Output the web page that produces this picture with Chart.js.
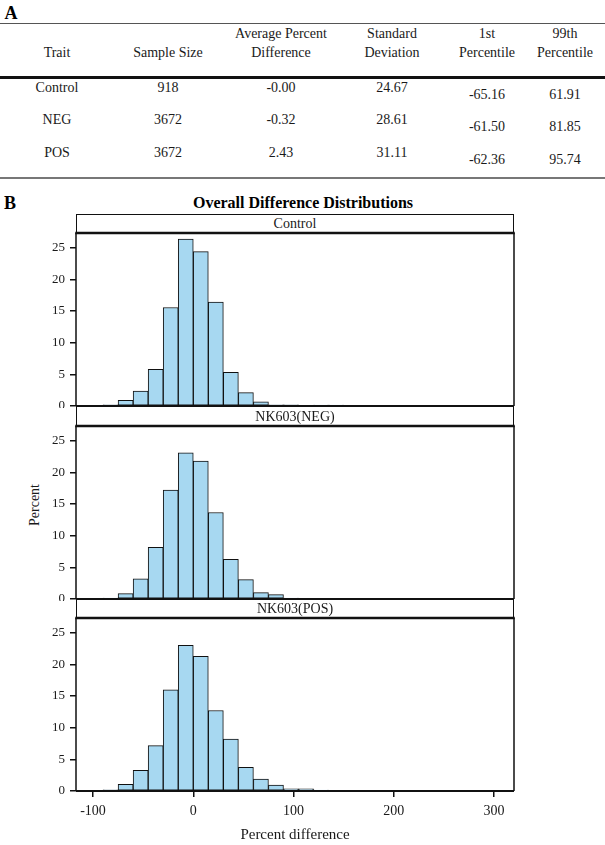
<!DOCTYPE html>
<html>
<head>
<meta charset="utf-8">
<script src="https://cdn.jsdelivr.net/npm/chart.js@4.4.1/dist/chart.umd.min.js"></script>
<style>
  body { margin: 0; background: #fff; }
  #page { position: relative; width: 605px; height: 845px; overflow: hidden; font-family: "Liberation Serif", "Times New Roman", serif; color: #1a1a1a; }
  .t { position: absolute; white-space: nowrap; transform: translate(-50%, -50%); line-height: 1; }
  .rule { position: absolute; left: 0; width: 605px; }
  canvas { position: absolute; left: 0; }
  .strip { position: absolute; left: 76px; width: 438px; border: 1px solid #111; box-sizing: border-box; }
</style>
</head>
<body>
<div id="page"></div>
<script>
// table (panel A)
const traits = ['Control', 'NEG', 'POS'];
const sampleSizes = ['918', '3672', '3672'];
const avgPercentDiff = ['-0.00', '-0.32', '2.43'];
const stdDev = ['24.67', '28.61', '31.11'];
const pct1 = ['-65.16', '-61.50', '-62.36'];
const pct99 = ['61.91', '81.85', '95.74'];
const headTop = ['', '', 'Average Percent', 'Standard', '1st', '99th'];
const headBottom = ['Trait', 'Sample Size', 'Difference', 'Deviation', 'Percentile', 'Percentile'];

// histograms (panel B), bin width 15, centres from -82.5
const binCenters = [-82.5, -67.5, -52.5, -37.5, -22.5, -7.5, 7.5, 22.5, 37.5, 52.5, 67.5, 82.5, 97.5, 112.5, 127.5, 142.5];
const controlPct = [0.2, 0.9, 2.35, 5.8, 15.55, 26.35, 24.35, 16.4, 5.3, 2.1, 0.65, 0.2, 0.2, 0, 0.15, 0.15];
const negPct = [0.15, 0.85, 3.2, 8.15, 17.2, 23.05, 21.75, 13.65, 6.25, 3.05, 1.0, 0.7, 0.15, 0.1, 0, 0];
const posPct = [0.2, 1.05, 3.25, 7.15, 15.95, 23.0, 21.25, 12.7, 8.2, 3.75, 1.9, 0.95, 0.35, 0.35, 0.15, 0];
const panelNames = ['Control', 'NK603(NEG)', 'NK603(POS)'];
const xTicks = [-100, 0, 100, 200, 300];
const yTicks = [0, 5, 10, 15, 20, 25];

const FONT = '"Liberation Serif", "Times New Roman", serif';
const page = document.getElementById('page');

function text(str, cx, cy, size, extra) {
  const d = document.createElement('div');
  d.className = 't';
  d.textContent = str;
  d.style.left = cx + 'px';
  d.style.top = cy + 'px';
  d.style.fontSize = size + 'px';
  if (extra) Object.assign(d.style, extra);
  page.appendChild(d);
  return d;
}
function rule(y, h, color) {
  const d = document.createElement('div');
  d.className = 'rule';
  d.style.top = y + 'px';
  d.style.height = h + 'px';
  d.style.background = color;
  page.appendChild(d);
}

// ---- panel A ----
text('A', 11, 13, 18, { fontWeight: 'bold', color: '#000' });
rule(22.5, 1, '#555');
rule(76, 2.5, '#111');
rule(177, 2, '#777');

const colX = [57, 168, 281, 392, 487, 565];
headTop.forEach((h, i) => { if (h) text(h, colX[i], 34, 14); });
headBottom.forEach((h, i) => text(h, colX[i], 53, 14));

const rowY = [88, 120, 153];
const cols = [traits, sampleSizes, avgPercentDiff, stdDev, pct1, pct99];
cols.forEach((col, c) => {
  col.forEach((v, r) => {
    const dy = c >= 4 ? 7 : 0;
    text(v, colX[c], rowY[r] + dy, 14);
  });
});

// ---- panel B ----
text('B', 10, 203, 18, { fontWeight: 'bold', color: '#000' });
text('Overall Difference Distributions', 303, 203, 16, { fontWeight: 'bold', color: '#000' });
text('Percent', 35, 505, 14, { transform: 'translate(-50%, -50%) rotate(-90deg)' });

const stripTop = [214, 406, 599];
const plotTop = [233, 426, 618];
const PLOT_H = 173;

const boxPlugin = {
  id: 'box',
  afterDraw(chart) {
    const { ctx, chartArea: a } = chart;
    ctx.save();
    ctx.strokeStyle = '#111';
    ctx.lineWidth = 1.5;
    ctx.beginPath();
    ctx.moveTo(a.left, a.top); ctx.lineTo(a.left, a.bottom);
    ctx.moveTo(a.right, a.top); ctx.lineTo(a.right, a.bottom);
    ctx.stroke();
    ctx.lineWidth = 2;
    ctx.beginPath();
    ctx.moveTo(a.left, a.bottom); ctx.lineTo(a.right, a.bottom);
    ctx.stroke();
    ctx.lineWidth = 2.5;
    ctx.beginPath();
    ctx.moveTo(a.left - 0.75, a.top); ctx.lineTo(a.right + 0.75, a.top);
    ctx.stroke();
    ctx.restore();
  }
};

function makePanel(i, values) {
  const last = i === 2;
  const strip = document.createElement('div');
  strip.className = 'strip';
  strip.style.top = stripTop[i] + 'px';
  strip.style.height = (plotTop[i] - stripTop[i] + 1) + 'px';
  page.appendChild(strip);
  text(panelNames[i], 295, (stripTop[i] + plotTop[i]) / 2 + 0.5, 14);

  const cv = document.createElement('canvas');
  const top = plotTop[i] - 2;
  cv.width = 605;
  cv.height = last ? 845 - top : PLOT_H + 4;
  cv.style.top = top + 'px';
  page.appendChild(cv);

  new Chart(cv, {
    type: 'bar',
    data: {
      datasets: [{
        data: binCenters.map((c, k) => ({ x: c, y: values[k] })),
        backgroundColor: '#a7d8f1',
        borderColor: '#111',
        borderWidth: 1,
        borderSkipped: false,
        barPercentage: 1,
        categoryPercentage: 1
      }]
    },
    options: {
      responsive: false,
      animation: false,
      layout: { padding: { left: 24, right: 91, top: 2, bottom: last ? 0 : 2 } },
      plugins: { legend: { display: false }, tooltip: { enabled: false } },
      scales: {
        x: {
          type: 'linear',
          min: -117,
          max: 320,
          offset: false,
          display: last,
          grid: { drawOnChartArea: false, tickLength: 6, color: '#111', lineWidth: 1.5, offset: false },
          border: { display: false },
          afterBuildTicks: s => { s.ticks = xTicks.map(v => ({ value: v })); },
          ticks: { color: '#1a1a1a', font: { family: FONT, size: 14 }, padding: 6, maxRotation: 0 },
          title: { display: true, text: 'Percent difference', color: '#1a1a1a', font: { family: FONT, size: 15 }, padding: { top: 4, bottom: 1 } },
          afterFit: s => { if (last) { s.height = 845 - (plotTop[2] + PLOT_H); s.paddingLeft = 0; s.paddingRight = 0; } }
        },
        y: {
          min: 0,
          max: 27.3,
          grid: { drawOnChartArea: false, tickLength: 6, color: '#111', lineWidth: 1.5 },
          border: { display: false },
          afterBuildTicks: s => { s.ticks = yTicks.map(v => ({ value: v })); },
          ticks: { color: '#1a1a1a', font: { family: FONT, size: 13 }, padding: 5 },
          afterFit: s => { s.width = 52; s.paddingTop = 0; s.paddingBottom = 0; }
        }
      }
    },
    plugins: [boxPlugin]
  });
}

makePanel(0, controlPct);
makePanel(1, negPct);
makePanel(2, posPct);
</script>
</body>
</html>
